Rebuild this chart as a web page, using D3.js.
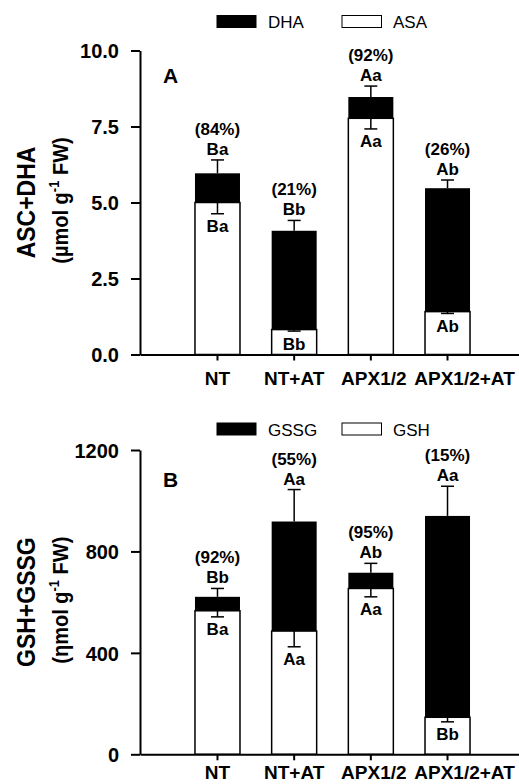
<!DOCTYPE html>
<html>
<head>
<meta charset="utf-8">
<script src="https://cdn.jsdelivr.net/npm/d3@7"></script>
<style>
  body { margin: 0; background: #fff; }
  svg { display: block; font-family: Arial, "Liberation Sans", sans-serif; }
  .axis path, .axis line { stroke: #000; stroke-width: 2; }
  .axis text { font-size: 19px; font-weight: bold; fill: #000; font-family: Arial, "Liberation Sans", sans-serif; }
  .yax text { font-size: 20px; }
</style>
</head>
<body>
<svg id="main" width="519" height="784"></svg>
<script>
// groups (same for both panels)
const groups = ["NT", "NT+AT", "APX1/2", "APX1/2+AT"];

// panel A: ascorbate
const asaVals = [5.0, 0.82, 7.77, 1.41];
const dhaVals = [0.96, 3.25, 0.70, 4.06];
const asaErr = [0.37, 0.05, 0.35, 0.06];
const totalErrA = [0.44, 0.34, 0.36, 0.27];
const pctA = ["(84%)", "(21%)", "(92%)", "(26%)"];
const topLetterA = ["Ba", "Bb", "Aa", "Ab"];
const lowLetterA = ["Ba", "Bb", "Aa", "Ab"];
const ticksA = [0, 2.5, 5, 7.5, 10];

// panel B: glutathione
const gshVals = [566, 486, 654, 146];
const gssgVals = [55, 432, 62, 794];
const gshErr = [24, 62, 33, 18];
const totalErrB = [33, 126, 37, 117];
const pctB = ["(92%)", "(55%)", "(95%)", "(15%)"];
const topLetterB = ["Bb", "Aa", "Ab", "Aa"];
const lowLetterB = ["Ba", "Aa", "Aa", "Bb"];
const ticksB = [0, 400, 800, 1200];

let svg = d3.select("#main")

function drawPanel(opt) {
    let g = svg.append("g")
    let x = d3.scaleBand().domain(groups).range([140, 525]).paddingInner(0.413).paddingOuter(0.717)
    let y = d3.scaleLinear().domain([0, opt.ticks[opt.ticks.length - 1]]).range([opt.bottom, opt.top])
    let cx = k => x(k) + x.bandwidth() / 2

    let rows = groups.map((k, i) => ({
        key: k, low: opt.low[i], high: opt.high[i], lowErr: opt.lowErr[i], totErr: opt.totErr[i],
        pct: opt.pct[i], topL: opt.topL[i], lowL: opt.lowL[i]
    }))

    // stacked bars: black (top part), white (bottom part)
    g.selectAll(".hi").data(rows).enter().append("rect")
        .attr("x", d => x(d.key)).attr("width", x.bandwidth())
        .attr("y", d => y(d.low + d.high)).attr("height", d => y(d.low) - y(d.low + d.high))
        .attr("fill", "#000")
    g.selectAll(".lo").data(rows).enter().append("rect")
        .attr("x", d => x(d.key)).attr("width", x.bandwidth())
        .attr("y", d => y(d.low)).attr("height", d => y(0) - y(d.low))
        .attr("fill", "#fff").attr("stroke", "#000").attr("stroke-width", 1.5)

    // error bars
    let cap = 6.5
    let eb = g.selectAll(".eb").data(rows).enter().append("g").attr("stroke", "#000").attr("stroke-width", 1.5)
    eb.append("line").attr("x1", d => cx(d.key)).attr("x2", d => cx(d.key))
        .attr("y1", d => y(d.low + d.high)).attr("y2", d => y(d.low + d.high + d.totErr))
    eb.append("line").attr("x1", d => cx(d.key) - cap).attr("x2", d => cx(d.key) + cap)
        .attr("y1", d => y(d.low + d.high + d.totErr)).attr("y2", d => y(d.low + d.high + d.totErr))
    eb.append("line").attr("x1", d => cx(d.key)).attr("x2", d => cx(d.key))
        .attr("y1", d => y(d.low)).attr("y2", d => y(d.low - d.lowErr))
    eb.append("line").attr("x1", d => cx(d.key) - cap).attr("x2", d => cx(d.key) + cap)
        .attr("y1", d => y(d.low - d.lowErr)).attr("y2", d => y(d.low - d.lowErr))

    // letters and percentages
    let lab = g.selectAll(".lab").data(rows).enter().append("g")
        .attr("font-size", 17).attr("font-weight", "bold").attr("text-anchor", "middle")
    lab.append("text").attr("x", d => cx(d.key))
        .attr("y", d => y(d.low + d.high + d.totErr) - 5).text(d => d.topL)
    lab.append("text").attr("x", d => cx(d.key))
        .attr("y", d => y(d.low + d.high + d.totErr) - 25).text(d => d.pct)
    lab.append("text").attr("x", d => cx(d.key))
        .attr("y", d => y(d.low - d.lowErr) + 18.5).text(d => d.lowL)

    // axes
    let xa = g.append("g").attr("class", "axis")
        .attr("transform", `translate(0,${opt.bottom})`)
        .call(d3.axisBottom(x).tickSize(6).tickSizeOuter(0).tickPadding(opt.xPad))
    // last label sits a bit right of its tick in the original
    xa.selectAll(".tick text").attr("dx", (d, i) => i == groups.length - 1 ? 17 : (i == 2 ? 3 : 0))
    let ya = g.append("g").attr("class", "axis yax")
        .attr("transform", `translate(140,0)`)
        .call(d3.axisLeft(y).tickValues(opt.ticks).tickFormat(opt.fmt).tickSize(9).tickSizeOuter(0).tickPadding(12))
    ya.selectAll(".tick text").attr("dy", "0.36em")

    // panel letter
    g.append("text").attr("x", 163).attr("y", opt.panelY)
        .attr("font-size", 21).attr("font-weight", "bold").text(opt.panel)

    // y title
    let mid = (opt.top + opt.bottom) / 2
    g.append("text").attr("transform", `translate(35,${mid}) rotate(-90) scale(1,1.15)`)
        .attr("text-anchor", "middle").attr("font-size", 23).attr("font-weight", "bold")
        .text(opt.title)
    let t2 = g.append("text").attr("transform", `translate(68,${mid - 2}) rotate(-90) scale(1,1.1)`)
        .attr("text-anchor", "middle").attr("font-size", 20).attr("font-weight", "bold")
    t2.append("tspan").text(opt.unit + " g")
    t2.append("tspan").attr("font-size", 13).attr("dy", -8).text("-1")
    t2.append("tspan").attr("dy", 8).text(" FW)")

    // legend
    let leg = g.append("g").attr("transform", `translate(0,${opt.legY})`)
    leg.append("rect").attr("x", 216.5).attr("y", 0).attr("width", 40).attr("height", 13).attr("fill", "#000")
    leg.append("text").attr("x", 268).attr("y", 13).attr("font-size", 17).text(opt.legHi)
    leg.append("rect").attr("x", 342).attr("y", 0.5).attr("width", 39.5).attr("height", 12)
        .attr("fill", "#fff").attr("stroke", "#000").attr("stroke-width", 1)
    leg.append("text").attr("x", 393).attr("y", 13).attr("font-size", 17).text(opt.legLo)
}

drawPanel({
    top: 50.5, bottom: 354.5, ticks: ticksA, fmt: d3.format(".1f"), xPad: 11,
    low: asaVals, high: dhaVals, lowErr: asaErr, totErr: totalErrA,
    pct: pctA, topL: topLetterA, lowL: lowLetterA,
    panel: "A", panelY: 83, title: "ASC+DHA", unit: "(µmol",
    legY: 15, legHi: "DHA", legLo: "ASA"
})

drawPanel({
    top: 450, bottom: 754.3, ticks: ticksB, fmt: d3.format("d"), xPad: 5,
    low: gshVals, high: gssgVals, lowErr: gshErr, totErr: totalErrB,
    pct: pctB, topL: topLetterB, lowL: lowLetterB,
    panel: "B", panelY: 487, title: "GSH+GSSG", unit: "(ηmol",
    legY: 422.5, legHi: "GSSG", legLo: "GSH"
})
</script>
</body>
</html>
